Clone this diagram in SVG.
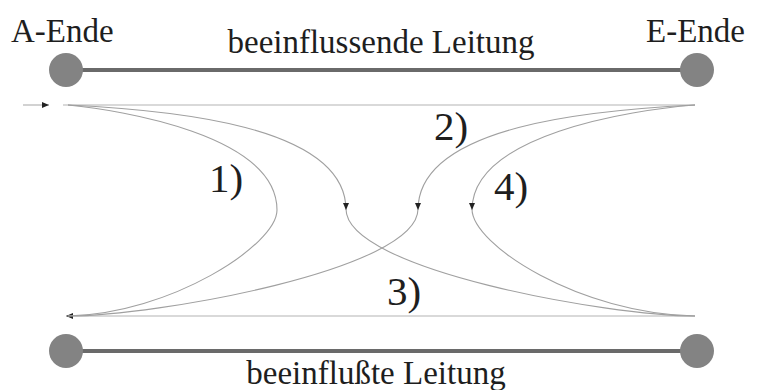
<svg xmlns="http://www.w3.org/2000/svg" width="761" height="390" viewBox="0 0 761 390">
<style>
.lbl{font-family:'Liberation Serif','DejaVu Serif',serif;font-size:33px;fill:#1e1e1e}
.num{font-family:'Liberation Serif','DejaVu Serif',serif;font-size:41px;fill:#1e1e1e}
.wire{stroke:#6a6a6a;stroke-width:4;fill:none}
.end{fill:#838383}
.thin{stroke:#b4b4b4;stroke-width:1.2;fill:none}
.curve{stroke:#a0a0a0;stroke-width:1.1;fill:none}
</style>
<defs>
<marker id="arr" markerWidth="8" markerHeight="6" refX="7" refY="3" orient="auto" markerUnits="userSpaceOnUse">
<path d="M0,0 L7,3 L0,6 Z" fill="#222"/>
</marker>
</defs>
<rect width="761" height="390" fill="#fff"/>
<g id="influencing-line">
<line class="wire" x1="66" y1="70" x2="697" y2="70"/>
<circle class="end" cx="66" cy="70" r="17"/>
<circle class="end" cx="697" cy="70" r="17"/>
<text class="lbl" x="11" y="42">A-Ende</text>
<text class="lbl" x="646" y="42">E-Ende</text>
<text class="lbl" x="381" y="53" text-anchor="middle">beeinflussende Leitung</text>
</g>
<g id="influenced-line">
<line class="wire" x1="66" y1="351" x2="697" y2="351"/>
<circle class="end" cx="66" cy="351" r="17"/>
<circle class="end" cx="697" cy="351" r="17"/>
<text class="lbl" x="376" y="384" text-anchor="middle">beeinflußte Leitung</text>
</g>
<g id="connectors">
<line class="thin" x1="23" y1="105" x2="49" y2="105" marker-end="url(#arr)"/>
<line class="thin" x1="63" y1="105" x2="695" y2="105"/>
<line class="thin" x1="695" y1="316" x2="66" y2="316" marker-end="url(#arr)"/>
<path class="curve" d="M68,105 C120,110 277,135 277,210 C277,245 170,314 68,316"/>
<path class="curve" d="M68,105 C170,110 346,125 346,210" marker-end="url(#arr)"/>
<path class="curve" d="M346,209 C346,270 610,316 695,316"/>
<path class="curve" d="M695,105 C594,110 418,125 418,210" marker-end="url(#arr)"/>
<path class="curve" d="M418,209 C418,270 154,316 68,316"/>
<path class="curve" d="M695,105 C630,110 472,135 472,210" marker-end="url(#arr)"/>
<path class="curve" d="M472,209 C472,245 580,314 695,316"/>
</g>
<g id="labels">
<text class="num" x="209" y="192">1)</text>
<text class="num" x="434" y="140">2)</text>
<text class="num" x="387" y="305">3)</text>
<text class="num" x="494" y="200">4)</text>
</g>
</svg>
